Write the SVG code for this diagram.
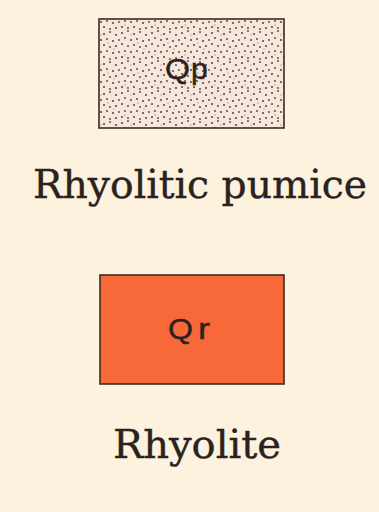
<svg xmlns="http://www.w3.org/2000/svg" width="379" height="512" viewBox="0 0 379 512">
  <style>
    .box { stroke: #3b2b22; stroke-width: 1.6; }
    .code { font-family: "Liberation Sans", Arial, sans-serif; font-size: 30px; fill: #2e211c; stroke: #2e211c; stroke-width: 0.4; }
    .label { font-family: "DejaVu Serif", "Liberation Serif", serif; font-size: 40px; fill: #2a221e; stroke: #2a221e; stroke-width: 0.4; }
  </style>
  <defs>
    <pattern id="stipple" x="0" y="0" width="30" height="30" patternUnits="userSpaceOnUse">
      <rect width="30" height="30" fill="#f6e6dc"/>
      <g fill="#4e4040">
        <circle cx="2" cy="3" r="1"/>
        <circle cx="8" cy="1" r="0.9"/>
        <circle cx="14" cy="4" r="1"/>
        <circle cx="20" cy="2" r="0.9"/>
        <circle cx="26" cy="5" r="1"/>
        <circle cx="5" cy="8" r="0.9"/>
        <circle cx="11" cy="10" r="1"/>
        <circle cx="17" cy="9" r="0.9"/>
        <circle cx="23" cy="11" r="1"/>
        <circle cx="29" cy="10" r="0.9"/>
        <circle cx="2" cy="14" r="1"/>
        <circle cx="8" cy="16" r="0.9"/>
        <circle cx="14" cy="15" r="1"/>
        <circle cx="20" cy="17" r="0.9"/>
        <circle cx="26" cy="16" r="1"/>
        <circle cx="5" cy="21" r="0.9"/>
        <circle cx="11" cy="22" r="1"/>
        <circle cx="17" cy="21" r="0.9"/>
        <circle cx="23" cy="23" r="1"/>
        <circle cx="29" cy="22" r="0.9"/>
        <circle cx="2" cy="27" r="1"/>
        <circle cx="8" cy="28" r="0.9"/>
        <circle cx="14" cy="27" r="1"/>
        <circle cx="20" cy="29" r="0.9"/>
        <circle cx="26" cy="28" r="1"/>
      </g>
      <g fill="#c85a5a" opacity="0.7">
        <circle cx="11" cy="5" r="0.7"/>
        <circle cx="24" cy="19" r="0.7"/>
        <circle cx="5" cy="25" r="0.7"/>
        <circle cx="18" cy="13" r="0.7"/>
      </g>
    </pattern>
  </defs>
  <rect width="379" height="512" fill="#fcf2de"/>
  <g id="node-qp">
    <rect class="box" x="99" y="19" width="185" height="109" fill="url(#stipple)"/>
    <text class="code" y="79"><tspan x="165" textLength="25" lengthAdjust="spacingAndGlyphs">Q</tspan><tspan x="191">p</tspan></text>
  </g>
  <text class="label" x="200" y="198" text-anchor="middle" textLength="334" lengthAdjust="spacingAndGlyphs">Rhyolitic pumice</text>
  <g id="node-qr">
    <rect class="box" x="100" y="275" width="184" height="109" fill="#f8693a"/>
    <text class="code" y="339"><tspan x="168" textLength="25" lengthAdjust="spacingAndGlyphs">Q</tspan><tspan x="198" textLength="12" lengthAdjust="spacingAndGlyphs">r</tspan></text>
  </g>
  <text class="label" x="197" y="458" text-anchor="middle" textLength="168" lengthAdjust="spacingAndGlyphs">Rhyolite</text>
</svg>
